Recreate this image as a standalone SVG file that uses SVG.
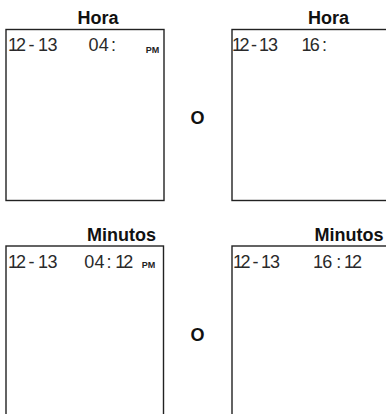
<svg xmlns="http://www.w3.org/2000/svg" width="386" height="414" viewBox="0 0 386 414">
  <style>
    .screen { fill: #fff; stroke: #222; stroke-width: 1.4; }
    .title { font-family: "Liberation Sans", Arial, sans-serif; font-weight: bold; font-size: 18px; fill: #111; text-anchor: middle; }
    .lcd { font-family: "Liberation Sans", Arial, sans-serif; font-size: 18px; fill: #2a2a2a; }
    .ampm { font-family: "Liberation Sans", Arial, sans-serif; font-weight: bold; font-size: 9px; fill: #222; }
    .or { font-family: "Liberation Sans", Arial, sans-serif; font-weight: bold; font-size: 18px; fill: #111; text-anchor: middle; }
  </style>
  <rect width="386" height="414" fill="#fff"/>

  <!-- Hour setting, 12-hour display -->
  <g id="hora-12h">
    <text class="title" x="98" y="24">Hora</text>
    <rect class="screen" x="6" y="29.5" width="158" height="171"/>
    <text class="lcd" x="8 16 28.5 38 47.5" y="50.7">12-13</text>
    <text class="lcd" x="88.5 98.8 111" y="50.7">04:</text>
    <text class="ampm" x="145.7" y="53.3">PM</text>
  </g>

  <text id="or-top" class="or" x="197.5" y="124">O</text>

  <!-- Hour setting, 24-hour display -->
  <g id="hora-24h">
    <text class="title" x="328.5" y="24">Hora</text>
    <rect class="screen" x="232" y="29.5" width="160" height="171"/>
    <text class="lcd" x="232 239.5 251 259 268" y="50.7">12-13</text>
    <text class="lcd" x="301.5 309.8 322" y="50.7">16:</text>
  </g>

  <!-- Minute setting, 12-hour display -->
  <g id="minutos-12h">
    <text class="title" x="121.5" y="241">Minutos</text>
    <rect class="screen" x="6" y="246" width="157.5" height="180"/>
    <text class="lcd" x="8 16 28.5 38 47.5" y="268.3">12-13</text>
    <text class="lcd" x="84.3 94.5 106.6 115.3 123.3" y="268.3">04:12</text>
    <text class="ampm" x="141.7" y="268.3">PM</text>
  </g>

  <text id="or-bottom" class="or" x="197.5" y="340.5">O</text>

  <!-- Minute setting, 24-hour display -->
  <g id="minutos-24h">
    <text class="title" x="349" y="241">Minutos</text>
    <rect class="screen" x="232" y="246" width="160" height="180"/>
    <text class="lcd" x="233 240.5 252.5 261 270" y="268.3">12-13</text>
    <text class="lcd" x="313 322.3 336.3 344 352" y="268.3">16:12</text>
  </g>
</svg>
